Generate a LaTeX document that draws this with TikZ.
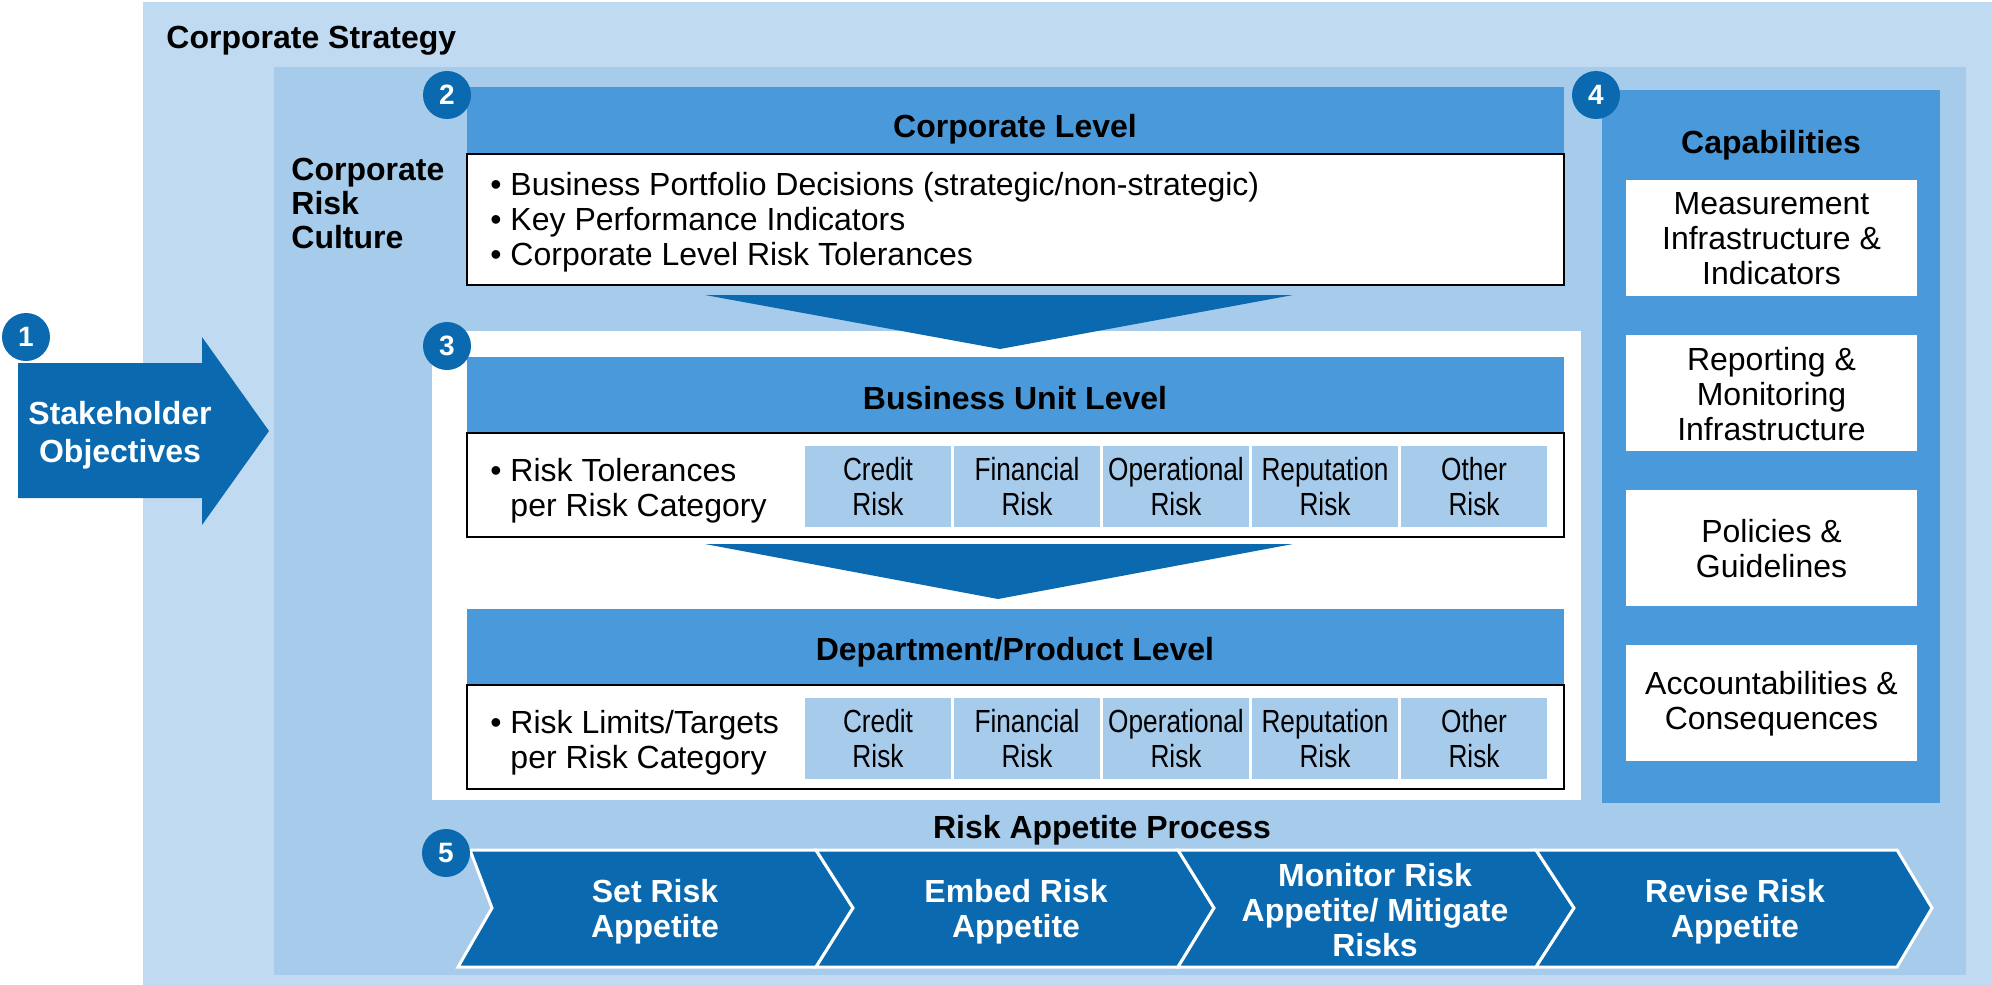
\documentclass[tikz,border=0pt]{standalone}
\usepackage{fontspec}
\setmainfont{Liberation Sans}
\newfontfamily\narrowfont[FakeStretch=0.82]{Liberation Sans}
\definecolor{bgout}{HTML}{C0DBF1}
\definecolor{bgin}{HTML}{A6CBEB}
\definecolor{midblue}{HTML}{4A9ADB}
\definecolor{darkblue}{HTML}{0A69AF}
\tikzset{
  txt/.style={inner sep=0pt, align=center, font=\fontsize{16}{17.5}\selectfont},
  btxt/.style={inner sep=0pt, align=center, font=\fontsize{16}{17.5}\selectfont\bfseries},
  wtxt/.style={btxt, text=white},
  ltxt/.style={inner sep=0pt, align=left, anchor=west, font=\fontsize{16}{17.5}\selectfont},
  celltxt/.style={inner sep=0pt, align=center, font=\fontsize{16}{17.5}\narrowfont},
  num/.style={circle, fill=darkblue, minimum size=24pt, inner sep=0pt, text=white,
    font=\fontsize{14}{14}\selectfont\bfseries},
  boxline/.style={draw=black, line width=1pt, fill=white},
  chev/.style={fill=darkblue, draw=white, line width=1.5pt, line join=miter},
}
\begin{document}
\begin{tikzpicture}[x=0.5pt,y=-0.5pt]
\useasboundingbox (0,0) rectangle (1992,985);
% backgrounds
\fill[bgout] (143,2) rectangle (1992,985);
\fill[bgin] (274,67) rectangle (1966,975);
\fill[white] (432,331) rectangle (1581,800);
\node[btxt, anchor=west] (cs) at (166,41) {Corporate Strategy};
\node[btxt, align=left, anchor=west] (crc) at (291,203) {Corporate\\[-0.5pt]Risk\\[-0.5pt]Culture};

% stakeholder arrow
\fill[darkblue] (18,363) -- (202,363) -- (202,337) -- (269,431) -- (202,525) -- (202,498) -- (18,498) -- cycle;
\node[wtxt, font=\fontsize{16}{19}\selectfont\bfseries] (stake) at (120,435) {Stakeholder\\Objectives};

% corporate level
\fill[midblue] (467,87) rectangle (1564,154);
\node[btxt] (corpl) at (1015,129) {Corporate Level};
\draw[boxline] (467,154) rectangle (1564,285);
\node[ltxt] (corpb) at (490,222) {\textbullet\ Business Portfolio Decisions (strategic/non-strategic)\\\textbullet\ Key Performance Indicators\\\textbullet\ Corporate Level Risk Tolerances};

% business unit level
\fill[midblue] (467,357) rectangle (1564,433);
\node[btxt] (bul) at (1015,398) {Business Unit Level};
\draw[boxline] (467,433) rectangle (1564,537);
\node[ltxt] (bub) at (490,491) {\textbullet\ Risk Tolerances\\\hphantom{\textbullet\ }per Risk Category};

% department level
\fill[midblue] (467,609) rectangle (1564,685);
\node[btxt] (dpl) at (1015,652) {Department/Product Level};
\draw[boxline] (467,685) rectangle (1564,789);
\node[ltxt] (dpb) at (490,743) {\textbullet\ Risk Limits/Targets\\\hphantom{\textbullet\ }per Risk Category};

% risk cells
\foreach \x/\t [count=\i] in {805/Credit, 954/Financial, 1103/Operational, 1252/Reputation, 1401/Other} {
  \fill[bgin] (\x,446) rectangle ++(146,81);
  \node[celltxt] (bu\i) at (\x+73,487) {\t\\Risk};
  \fill[bgin] (\x,698) rectangle ++(146,81);
  \node[celltxt] (dp\i) at (\x+73,739) {\t\\Risk};
}

% down chevrons
\fill[darkblue] (705,295) -- (1293,295) -- (1000,349) -- cycle;
\fill[darkblue] (705,544) -- (1293,544) -- (998,599) -- cycle;

% capabilities
\fill[midblue] (1602,90) rectangle (1940,803);
\node[btxt] (cap) at (1771,145) {Capabilities};
\foreach \y/\t [count=\i] in {180/{Measurement\\Infrastructure \&\\Indicators}, 335/{Reporting \&\\Monitoring\\Infrastructure}, 490/{Policies \&\\Guidelines}, 645/{Accountabilities \&\\Consequences}} {
  \fill[white] (1626,\y) rectangle (1917,\y+116);
  \node[txt] (capb\i) at (1771.5,\y+59) {\t};
}

% process
\node[btxt] (rap) at (1102,830) {Risk Appetite Process};
\draw[chev] (470,850) -- (816,850) -- (853,908) -- (816,967) -- (458,967) -- (492,908) -- cycle;
\draw[chev] (816,850) -- (1178,850) -- (1214,908) -- (1178,967) -- (816,967) -- (853,908) -- cycle;
\draw[chev] (1178,850) -- (1536,850) -- (1574,908) -- (1536,967) -- (1178,967) -- (1214,908) -- cycle;
\draw[chev] (1536,850) -- (1897,850) -- (1932,908) -- (1897,967) -- (1536,967) -- (1574,908) -- cycle;
\node[wtxt] (p1) at (655,912) {Set Risk\\Appetite};
\node[wtxt] (p2) at (1016,912) {Embed Risk\\Appetite};
\node[wtxt] (p3) at (1375,910) {Monitor Risk\\Appetite/ Mitigate\\Risks};
\node[wtxt] (p4) at (1735,912) {Revise Risk\\Appetite};

% numbers
\node[num] (n1) at (26,337) {1};
\node[num] (n2) at (447,95) {2};
\node[num] (n3) at (447,346) {3};
\node[num] (n4) at (1596,95) {4};
\node[num] (n5) at (446,853) {5};
\end{tikzpicture}
\end{document}
